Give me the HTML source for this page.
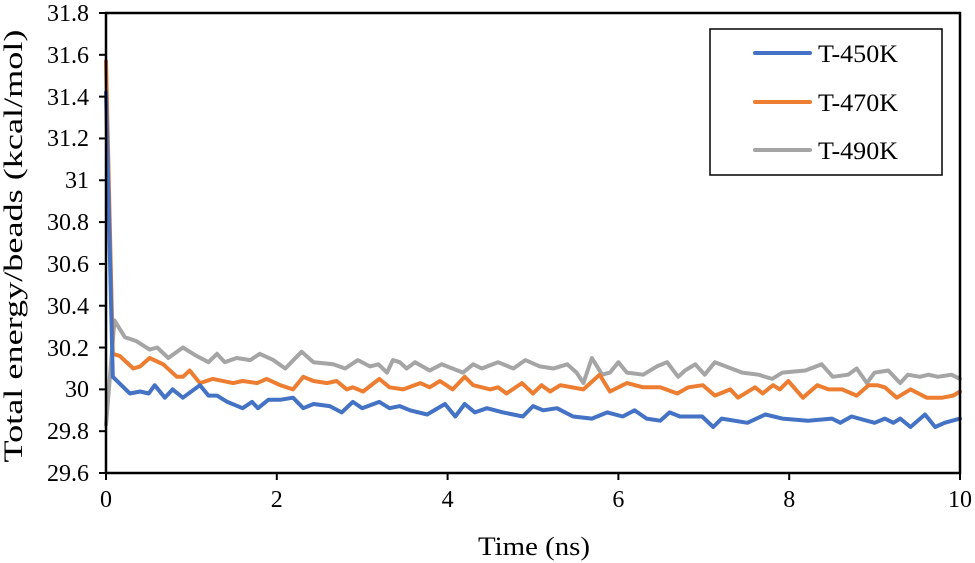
<!DOCTYPE html>
<html><head><meta charset="utf-8"><style>
body{margin:0;background:#fff;}
svg{display:block;}
svg text{font-family:"Liberation Serif","DejaVu Serif",serif;}
.tk{font-size:24px;}
.ttl{font-size:26px;}
.leg{font-size:25px;}
</style></head><body>
<svg id="chart" width="975" height="563" viewBox="0 0 975 563" xmlns="http://www.w3.org/2000/svg">
<g id="series"></g>
<rect x="106" y="13" width="854" height="460" fill="none" stroke="#000" stroke-width="2.5"/>
<g id="axes"></g>
<g text-anchor="end">
<text class="tk" x="89" y="481">29.6</text>
<text class="tk" x="89" y="439">29.8</text>
<text class="tk" x="89" y="397">30</text>
<text class="tk" x="89" y="356">30.2</text>
<text class="tk" x="89" y="314">30.4</text>
<text class="tk" x="89" y="272">30.6</text>
<text class="tk" x="89" y="230">30.8</text>
<text class="tk" x="89" y="188">31</text>
<text class="tk" x="89" y="146">31.2</text>
<text class="tk" x="89" y="105">31.4</text>
<text class="tk" x="89" y="63">31.6</text>
<text class="tk" x="89" y="21">31.8</text>
</g>
<g text-anchor="middle">
<text class="tk" x="106" y="507">0</text>
<text class="tk" x="276.8" y="507">2</text>
<text class="tk" x="447.6" y="507">4</text>
<text class="tk" x="618.4" y="507">6</text>
<text class="tk" x="789.2" y="507">8</text>
<text class="tk" x="960" y="507">10</text>
</g>
<text class="ttl" x="534" y="555" text-anchor="middle" textLength="112" lengthAdjust="spacingAndGlyphs">Time (ns)</text>
<text class="ttl" transform="translate(22,246) rotate(-90)" text-anchor="middle" textLength="433" lengthAdjust="spacingAndGlyphs">Total energy/beads (kcal/mol)</text>
<g>
<rect x="710" y="29" width="232" height="146" fill="#fff" stroke="#000" stroke-width="1.5"/>
<line x1="755" y1="53" x2="810" y2="53" stroke="#4472c4" stroke-width="4" stroke-linecap="round"/>
<text class="leg" x="818" y="62" textLength="80" lengthAdjust="spacingAndGlyphs">T-450K</text>
<line x1="755" y1="102" x2="810" y2="102" stroke="#ed7d31" stroke-width="4" stroke-linecap="round"/>
<text class="leg" x="818" y="111" textLength="80" lengthAdjust="spacingAndGlyphs">T-470K</text>
<line x1="755" y1="150" x2="810" y2="150" stroke="#a5a5a5" stroke-width="4" stroke-linecap="round"/>
<text class="leg" x="818" y="159" textLength="80" lengthAdjust="spacingAndGlyphs">T-490K</text>
</g>
</svg>
<script>
const xTicks = [0, 2, 4, 6, 8, 10];
const yTicks = [29.6, 29.8, 30, 30.2, 30.4, 30.6, 30.8, 31, 31.2, 31.4, 31.6, 31.8];
const t450 = [0,0.08,0.28,0.4,0.5,0.57,0.69,0.78,0.9,1.1,1.2,1.3,1.42,1.6,1.71,1.78,1.9,2.04,2.19,2.31,2.43,2.62,2.76,2.89,3.0,3.2,3.32,3.44,3.56,3.76,3.97,4.09,4.2,4.32,4.46,4.65,4.88,5.0,5.12,5.28,5.47,5.69,5.87,6.05,6.19,6.33,6.49,6.6,6.72,6.84,6.98,7.11,7.21,7.51,7.72,7.92,8.22,8.5,8.6,8.73,9.0,9.12,9.22,9.3,9.42,9.59,9.71,9.82,10];
const v450 = [31.42,30.06,29.98,29.99,29.98,30.02,29.96,30.0,29.96,30.02,29.97,29.97,29.94,29.91,29.94,29.91,29.95,29.95,29.96,29.91,29.93,29.92,29.89,29.94,29.91,29.94,29.91,29.92,29.9,29.88,29.93,29.87,29.93,29.89,29.91,29.89,29.87,29.92,29.9,29.91,29.87,29.86,29.89,29.87,29.9,29.86,29.85,29.89,29.87,29.87,29.87,29.82,29.86,29.84,29.88,29.86,29.85,29.86,29.84,29.87,29.84,29.86,29.84,29.86,29.82,29.88,29.82,29.84,29.86];
const t470 = [0,0.08,0.16,0.32,0.4,0.51,0.67,0.83,0.9,0.98,1.1,1.25,1.49,1.6,1.77,1.88,2.04,2.19,2.31,2.43,2.59,2.7,2.82,2.89,3.01,3.2,3.32,3.48,3.68,3.79,3.91,4.06,4.2,4.3,4.5,4.59,4.69,4.87,5.0,5.1,5.2,5.32,5.59,5.78,5.9,6.1,6.29,6.49,6.69,6.82,6.99,7.13,7.31,7.4,7.6,7.69,7.81,7.89,7.99,8.16,8.33,8.46,8.62,8.79,8.93,9.03,9.12,9.26,9.42,9.61,9.79,9.92,10];
const v470 = [31.57,30.17,30.16,30.1,30.11,30.15,30.12,30.06,30.06,30.09,30.03,30.05,30.03,30.04,30.03,30.05,30.02,30.0,30.06,30.04,30.03,30.04,30.0,30.01,29.99,30.05,30.01,30.0,30.03,30.01,30.04,30.0,30.06,30.02,30.0,30.01,29.98,30.03,29.98,30.02,29.99,30.02,30.0,30.07,29.99,30.03,30.01,30.01,29.98,30.01,30.02,29.97,30.0,29.96,30.01,29.98,30.02,30.0,30.04,29.96,30.02,30.0,30.0,29.97,30.02,30.02,30.01,29.96,30.0,29.96,29.96,29.97,29.99];
const t490 = [0,0.1,0.22,0.36,0.51,0.6,0.73,0.9,1.06,1.2,1.3,1.39,1.53,1.69,1.8,1.96,2.1,2.29,2.43,2.66,2.8,2.95,3.09,3.19,3.29,3.36,3.44,3.52,3.62,3.79,3.93,4.18,4.3,4.4,4.59,4.77,4.91,5.08,5.24,5.4,5.51,5.59,5.69,5.81,5.9,6.0,6.1,6.29,6.45,6.57,6.7,6.78,6.9,7.01,7.13,7.45,7.64,7.8,7.92,8.19,8.38,8.51,8.69,8.79,8.91,9.0,9.16,9.3,9.39,9.53,9.63,9.74,9.9,10];
const v490 = [29.83,30.33,30.25,30.23,30.19,30.2,30.15,30.2,30.16,30.13,30.17,30.13,30.15,30.14,30.17,30.14,30.1,30.18,30.13,30.12,30.1,30.14,30.11,30.12,30.08,30.14,30.13,30.1,30.13,30.09,30.12,30.08,30.12,30.1,30.13,30.1,30.14,30.11,30.1,30.12,30.08,30.03,30.15,30.07,30.08,30.13,30.08,30.07,30.11,30.13,30.06,30.09,30.12,30.07,30.13,30.08,30.07,30.05,30.08,30.09,30.12,30.06,30.07,30.1,30.03,30.08,30.09,30.03,30.07,30.06,30.07,30.06,30.07,30.05];

const X0=106,X1=960,Y0=473,Y1=13;
function xs(t){return X0+(t-0)/(10-0)*(X1-X0);}
function ys(v){return Y0-(v-29.6)/(31.8-29.6)*(Y0-Y1);}
const NS="http://www.w3.org/2000/svg";
const axes=document.getElementById('axes');
const ser=document.getElementById('series');
function mk(tag,attrs,parent){const e=document.createElementNS(NS,tag);for(const k in attrs)e.setAttribute(k,attrs[k]);parent.appendChild(e);return e;}
xTicks.forEach(t=>{
  const l=mk('line',{x1:xs(t),x2:xs(t),y1:Y0,y2:Y0+7,stroke:'#000','stroke-width':2},axes);
  
  
});
yTicks.forEach(v=>{
  const l=mk('line',{x1:X0-7,x2:X0,y1:ys(v),y2:ys(v),stroke:'#000','stroke-width':2},axes);
  
  
});
function line(ts,vs,color,name){
  const d=ts.map((t,i)=>(i?'L':'M')+xs(t).toFixed(1)+','+ys(vs[i]).toFixed(1)).join('');
  const p=mk('path',{d:d,fill:'none',stroke:color,'stroke-width':4,'stroke-linejoin':'round','stroke-linecap':'round'},ser);
  
  
}
line(t490,v490,'#a5a5a5','series-t490k');
line(t470,v470,'#ed7d31','series-t470k');
line(t450,v450,'#4472c4','series-t450k');
</script>
</body></html>
